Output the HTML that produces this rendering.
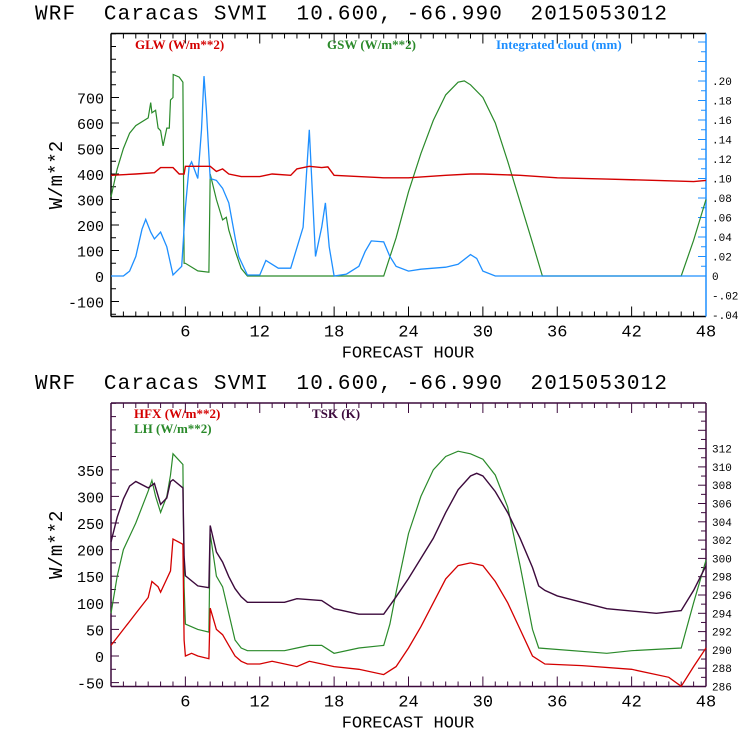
<!DOCTYPE html>
<html><head><meta charset="utf-8"><style>
html,body{margin:0;padding:0;background:#fff;width:740px;height:740px;overflow:hidden}
svg text{font-family:"Liberation Mono",monospace}
.lg{font-family:"Liberation Serif",serif;font-weight:bold;font-size:13px}
.ttl{white-space:pre}
</style></head><body>
<svg id="c" width="740" height="740" xmlns="http://www.w3.org/2000/svg"></svg>
<script>
// ---- top chart data ----
const glwHours=[0,2,3.5,4,5,5.5,5.9,6,8,8.5,9,9.5,10.5,12,13,14.5,15,16,17,17.5,18,20,22,24,27,29,30,33,36,40,44,47,48];
const glwVals=[395,400,405,425,425,400,400,430,430,410,420,400,390,390,400,395,420,430,425,428,395,390,385,385,395,400,400,395,385,380,375,370,375];
const gswHours=[0,0.5,1,1.5,2,3,3.2,3.3,3.6,3.8,4.0,4.2,4.5,4.7,4.8,5,5.02,5.5,5.8,5.9,6,7,7.9,8,8.5,9,9.3,9.5,10,10.5,11,22,23,24,25,26,27,28,28.5,29,30,31,32,33,34,34.8,46,47,48];
const gswVals=[310,420,500,560,590,620,680,640,650,580,570,510,580,580,690,700,790,780,760,50,50,20,15,400,300,220,230,180,100,30,0,0,150,330,480,610,710,760,765,750,700,600,450,290,130,0,0,140,300];
const cldHours=[0,1,1.5,2,2.5,2.8,3.2,3.5,4,4.5,5,5.7,6,6.3,6.5,7,7.3,7.5,7.7,8,8.5,9,9.5,10,10.3,11,12,12.5,13.5,14.5,15.5,16,16.5,17,17.3,17.6,18,19,20,20.5,21,22,22.5,23,24,25,27,28,29,29.5,30,31,48];
const cldVals=[0,0,0.005,0.02,0.048,0.058,0.045,0.038,0.045,0.03,0.001,0.01,0.07,0.112,0.117,0.1,0.15,0.205,0.17,0.1,0.098,0.09,0.075,0.04,0.02,0.001,0.001,0.016,0.008,0.008,0.05,0.15,0.02,0.05,0.075,0.03,0,0.002,0.01,0.025,0.036,0.035,0.02,0.01,0.005,0.007,0.009,0.012,0.022,0.018,0.005,0,0];
// ---- bottom chart data ----
const hfxHours=[0,1,2,3,3.3,3.8,4,4.5,4.8,5,5.8,5.9,6,6.5,7,7.9,8,8.5,9,9.5,10,10.5,11,12,13,15,16,18,20,22,23,24,25,26,27,28,29,30,31,32,33,34,35,38,42,45,46,47,48];
const hfxVals=[20,50,80,110,140,130,120,145,160,220,210,30,0,5,0,-5,90,50,40,20,0,-10,-15,-15,-10,-20,-10,-20,-25,-35,-20,15,55,100,145,170,175,170,140,100,50,0,-15,-18,-25,-40,-57,-20,15];
const lhHours=[0,0.5,1,2,3,3.3,3.6,4,4.5,4.8,5,5.8,5.9,6,7,7.9,8,8.5,9,9.5,10,10.5,11,14,15,16,17,18,20,22,22.5,23,24,25,26,27,28,29,30,31,32,33,34,34.5,40,42,46,47,48];
const lhVals=[80,150,200,250,310,330,300,270,300,340,380,360,130,60,50,45,230,150,130,80,30,15,10,10,15,20,20,5,15,20,60,120,230,300,350,375,385,380,370,340,280,170,50,15,5,10,15,100,180];
const tskHours=[0,0.5,1,1.5,2,3,3.5,4,4.5,4.8,5,5.8,5.9,6,7,7.9,8,8.5,9,9.5,10,10.5,11,12,14,15,17,18,20,22,23,24,25,26,27,28,29,29.5,30,31,32,33,34,34.5,35,36,40,44,46,47,48];
const tskVals=[301.8,304.5,306.5,307.9,308.4,307.7,308.2,305.9,306.6,308.4,308.6,307.7,300.2,298.1,297,296.8,303.6,300.7,299.6,298,296.7,295.8,295.2,295.2,295.2,295.6,295.4,294.5,293.9,293.9,295.8,297.8,300,302.2,305,307.5,309,309.3,309,307.3,305,302.2,299,297,296.5,295.9,294.5,294,294.3,296.5,299.2];
const xTicks=[6,12,18,24,30,36,42,48];
const topLeftTicks=[-100,0,100,200,300,400,500,600,700];
const topRightTicks=[-0.04,-0.02,0,0.02,0.04,0.06,0.08,0.10,0.12,0.14,0.16,0.18,0.20];
const botLeftTicks=[-50,0,50,100,150,200,250,300,350];
const botRightTicks=[286,288,290,292,294,296,298,300,302,304,306,308,310,312];

const svg=document.getElementById('c');
const NS='http://www.w3.org/2000/svg';
function el(t,a,p){const e=document.createElementNS(NS,t);for(const k in a)e.setAttribute(k,a[k]);(p||svg).appendChild(e);return e;}
const X0=111,X1=706;
const xs=h=>X0+(X1-X0)*h/48;
function fmtR(v){if(v===0)return '0';let s=v.toFixed(2);return s.replace('0.','.');}

function panel(o){
  const g=el('g',{});
  
  
  const t=el('text',{x:35,y:o.top-14,'font-size':21,fill:'#000',class:'ttl',textLength:632,lengthAdjust:'spacing'},g);
  t.textContent='WRF  Caracas SVMI  10.600, -66.990  2015053012';
  
  
  const yl=v=>o.y0L+(v)*o.kL;
  const yr=v=>o.y0R+(v-o.baseR)*o.kR;
  el('line',{x1:X0,y1:o.top,x2:X1,y2:o.top,stroke:o.frame,'stroke-width':1.5},g);
  el('line',{x1:X0,y1:o.bot,x2:X1,y2:o.bot,stroke:o.frame,'stroke-width':1.5},g);
  el('line',{x1:X0,y1:o.top,x2:X0,y2:o.bot,stroke:o.frame,'stroke-width':1.5},g);
  el('line',{x1:X1,y1:o.top,x2:X1,y2:o.bot,stroke:o.rframe,'stroke-width':1.5},g);
  for(let h=1;h<48;h++){const L=h%6===0?10:5;const x=xs(h);
    el('line',{x1:x,y1:o.bot,x2:x,y2:o.bot-L,stroke:o.frame},g);
    el('line',{x1:x,y1:o.top,x2:x,y2:o.top+L,stroke:o.frame},g);}
  xTicks.forEach(h=>{const t=el('text',{x:xs(h),y:o.bot+20,'font-size':17,'text-anchor':'middle'},g);t.textContent=h;
    });
  const xt=el('text',{x:408,y:o.bot+41,'font-size':17,'text-anchor':'middle'},g);xt.textContent='FORECAST HOUR';
  
  const yt=el('text',{x:0,y:0,'font-size':19,'text-anchor':'middle',transform:`translate(62,${(o.top+o.bot)/2}) rotate(-90)`},g);yt.textContent='W/m**2';
  
  for(let v=o.minorL0;yl(v)>o.top;v+=o.minorL){const y=yl(v);if(y>o.bot)continue;
    el('line',{x1:X0,y1:y,x2:X0+(o.leftTicks.includes(v)?8:5),y2:y,stroke:o.frame},g);}
  o.leftTicks.forEach(v=>{const t=el('text',{x:104,y:yl(v)+6,'font-size':15,'text-anchor':'end'},g);t.textContent=v;
    });
  for(let i=0;;i++){const v=o.baseR+i*o.minorR;const y=yr(v);if(y<o.top)break;
    el('line',{x1:X1,y1:y,x2:X1-(i%2===0?8:5),y2:y,stroke:o.rframe},g);}
  o.rightTicks.forEach(v=>{const t=el('text',{x:712,y:yr(v)+4,'font-size':11},g);t.textContent=o.fmtR(v);
    });
  return {g,yl,yr};
}
function series(g,hs,vs,f,color,name,w){
  const d=hs.map((h,i)=>(i?'L':'M')+xs(h).toFixed(1)+','+f(vs[i]).toFixed(1)).join('');
  const p=el('path',{d,fill:'none',stroke:color,'stroke-width':w||1.3},g);
  
  
}
function legend(g,x,y,txt,color,name){
  const t=el('text',{x,y,fill:color,class:'lg'},g);t.textContent=txt;
  
}
const RED='#d40000',GRN='#2a8a2a',BLU='#1e8fff',PUR='#3c0a3c';
const T=panel({name:'top-panel',top:33.5,bot:316.5,frame:'#000',rframe:BLU,y0L:276,kL:-0.255,y0R:276,baseR:0,kR:-975,
  minorL0:-150,minorL:50,leftTicks:topLeftTicks,rightTicks:topRightTicks,minorR:0.01,fmtR:fmtR});
series(T.g,gswHours,gswVals,T.yl,GRN,'gsw-line',1.2);
series(T.g,cldHours,cldVals,T.yr,BLU,'cloud-line',1.3);
series(T.g,glwHours,glwVals,T.yl,RED,'glw-line',1.4);
legend(T.g,135,49,'GLW (W/m**2)',RED,'legend-glw');
legend(T.g,327,49,'GSW (W/m**2)',GRN,'legend-gsw');
legend(T.g,496,49,'Integrated cloud (mm)',BLU,'legend-cloud');
const B=panel({name:'bottom-panel',top:403,bot:686.5,frame:PUR,rframe:PUR,y0L:656,kL:-0.532,y0R:686.5,baseR:286,kR:-9.15,
  minorL0:-50,minorL:25,leftTicks:botLeftTicks,rightTicks:botRightTicks,minorR:1,fmtR:v=>String(v)});
series(B.g,lhHours,lhVals,B.yl,GRN,'lh-line',1.2);
series(B.g,tskHours,tskVals,B.yr,PUR,'tsk-line',1.4);
series(B.g,hfxHours,hfxVals,B.yl,RED,'hfx-line',1.3);
legend(B.g,134,418,'HFX (W/m**2)',RED,'legend-hfx');
legend(B.g,134,433,'LH  (W/m**2)',GRN,'legend-lh');
legend(B.g,312,418,'TSK (K)',PUR,'legend-tsk');
</script>
</body></html>
